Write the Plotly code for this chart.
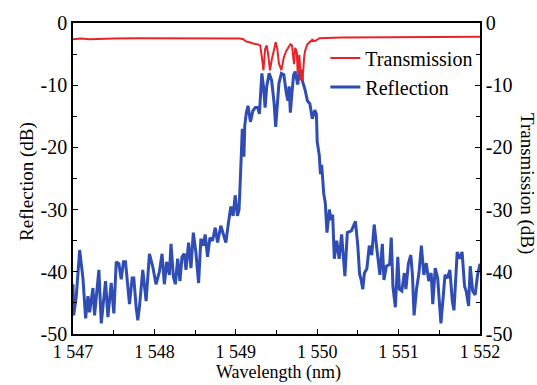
import plotly.graph_objects as go

# Reflection spectrum (dB) vs wavelength (nm)
refl_wl = [
    1547.000, 1547.008, 1547.040, 1547.082, 1547.122, 1547.155, 1547.184, 1547.204,
    1547.245, 1547.265, 1547.318, 1547.347, 1547.400, 1547.429, 1547.469, 1547.502,
    1547.531, 1547.563, 1547.592, 1547.620, 1547.645, 1547.673, 1547.694, 1547.727,
    1547.747, 1547.776, 1547.796, 1547.816, 1547.857, 1547.898, 1547.939, 1547.980,
    1548.020, 1548.061, 1548.094, 1548.122, 1548.151, 1548.184, 1548.204, 1548.233,
    1548.257, 1548.286, 1548.314, 1548.339, 1548.367, 1548.388, 1548.420, 1548.449,
    1548.478, 1548.510, 1548.543, 1548.571, 1548.600, 1548.624, 1548.653, 1548.682,
    1548.714, 1548.747, 1548.776, 1548.816, 1548.845, 1548.878, 1548.910, 1548.939,
    1548.967, 1548.992,
    1549.02, 1549.04, 1549.06, 1549.07, 1549.08, 1549.10, 1549.11, 1549.13,
    1549.15, 1549.18, 1549.21, 1549.24, 1549.27, 1549.29, 1549.31, 1549.32,
    1549.34, 1549.36, 1549.38, 1549.41, 1549.44, 1549.47, 1549.49, 1549.51,
    1549.53, 1549.56, 1549.59, 1549.62, 1549.64, 1549.655, 1549.67, 1549.69,
    1549.71, 1549.73, 1549.76, 1549.78, 1549.80, 1549.82, 1549.85, 1549.88,
    1549.91, 1549.94, 1549.97, 1549.99, 1550.00, 1550.025, 1550.04, 1550.055,
    1550.08, 1550.10, 1550.12, 1550.15, 1550.17, 1550.19, 1550.21, 1550.24,
    1550.27, 1550.30, 1550.32, 1550.34, 1550.37, 1550.42, 1550.47, 1550.50,
    1550.52, 1550.54, 1550.56, 1550.58, 1550.61, 1550.64, 1550.67, 1550.70,
    1550.73, 1550.75, 1550.77, 1550.80, 1550.82, 1550.85, 1550.89, 1550.91,
    1550.93, 1550.96, 1550.99, 1551.01, 1551.04, 1551.07, 1551.09, 1551.12,
    1551.15, 1551.17, 1551.19, 1551.22, 1551.25, 1551.28, 1551.31, 1551.34,
    1551.37, 1551.40, 1551.42, 1551.45, 1551.48, 1551.50, 1551.52, 1551.55,
    1551.57, 1551.60, 1551.63, 1551.66, 1551.68, 1551.72, 1551.75, 1551.78,
    1551.81, 1551.83, 1551.86, 1551.88, 1551.91, 1551.94, 1551.97, 1552.00,
]
refl_db = [
    -42.0, -47.0, -44.0, -36.5, -41.0, -47.5, -43.9, -46.5,
    -42.6, -47.0, -39.7, -48.3, -41.5, -47.3, -41.8, -46.7,
    -38.4, -38.7, -41.2, -38.4, -38.4, -43.1, -45.2, -41.0,
    -41.0, -45.7, -47.8, -45.7, -39.7, -44.7, -37.1, -39.2,
    -42.0, -40.0, -37.1, -42.0, -38.4, -40.5, -35.5, -40.8,
    -42.0, -37.9, -41.5, -37.6, -37.1, -39.7, -35.3, -39.4,
    -33.7, -36.9, -41.8, -34.7, -35.8, -34.0, -37.6, -34.5,
    -35.0, -32.9, -35.3, -32.6, -33.7, -35.3, -32.1, -29.5,
    -31.0, -27.7,
    -31.0, -30.0, -23.8, -20.1, -17.0, -21.5, -16.5, -14.4,
    -13.3, -15.9, -14.1, -13.6, -13.6, -14.6, -9.7, -8.1,
    -10.2, -13.6, -10.2, -8.1, -9.2, -12.8, -16.7, -12.8,
    -9.7, -8.1, -8.3, -11.2, -12.5, -10.2, -14.4, -11.2,
    -8.4, -7.8, -9.9, -8.0, -7.5, -9.4, -10.7, -12.5,
    -13.0, -15.4, -14.0, -14.6, -19.1, -21.2, -24.3, -22.8,
    -27.4, -29.0, -33.7, -30.0, -31.7, -30.8, -37.9, -35.0,
    -37.9, -34.0, -38.0, -40.7, -33.7, -33.4, -31.9, -36.0,
    -40.3, -41.3, -42.8, -40.2, -39.5, -35.8, -37.3, -32.4,
    -36.0, -38.5, -40.5, -35.5, -41.3, -39.1, -38.8, -34.5,
    -42.3, -45.7, -37.6, -42.8, -43.1, -40.2, -42.8, -38.7,
    -37.3, -40.5, -47.0, -42.8, -40.2, -35.8, -40.5, -38.6,
    -41.5, -40.2, -45.2, -39.4, -41.0, -44.7, -48.3, -43.7,
    -40.5, -41.0, -39.7, -44.7, -46.2, -36.8, -37.9, -36.8,
    -42.3, -43.1, -45.5, -39.1, -43.1, -43.7, -40.5, -38.7,
]

# Transmission spectrum (dB) vs wavelength (nm)
trans_wl = [
    1547.00, 1547.10, 1547.20, 1547.35, 1547.50, 1547.80, 1548.20, 1548.60,
    1549.00, 1549.05, 1549.09, 1549.13, 1549.17, 1549.21, 1549.26, 1549.30,
    1549.32, 1549.34, 1549.36, 1549.38, 1549.40, 1549.42, 1549.44, 1549.47,
    1549.49, 1549.51, 1549.53, 1549.56, 1549.59, 1549.62, 1549.64, 1549.67,
    1549.69, 1549.71, 1549.715, 1549.73, 1549.75, 1549.76, 1549.78, 1549.80,
    1549.82, 1549.84, 1549.85, 1549.88, 1549.91, 1549.94, 1549.97, 1550.00,
    1550.03, 1550.30, 1550.80, 1551.50, 1552.00,
]
trans_db = [
    -2.6, -2.5, -2.6, -2.5, -2.5, -2.45, -2.45, -2.4,
    -2.45, -2.5, -2.6, -3.0, -3.1, -3.3, -3.4, -3.6,
    -5.5, -7.6, -4.2, -3.6, -5.3, -7.6, -6.0, -4.2,
    -3.1, -4.2, -6.5, -7.6, -5.5, -4.5, -4.0, -3.4,
    -3.6, -5.5, -6.6, -4.0, -4.7, -8.1, -5.1, -9.1,
    -9.1, -5.5, -4.5, -3.4, -3.1, -2.7, -2.9, -2.6,
    -2.45, -2.35, -2.3, -2.3, -2.2,
]

x_ticks = [1547, 1548, 1549, 1550, 1551, 1552]
x_tick_text = ["1 547", "1 548", "1 549", "1 550", "1 551", "1 552"]
y_ticks = [0, -10, -20, -30, -40, -50]
y_tick_text = ["0", "-10", "-20", "-30", "-40", "-50"]

FONT = "Liberation Serif, Times New Roman, serif"
RED = "#e8242b"
BLUE = "#2f4db4"

fig = go.Figure()
fig.add_trace(go.Scatter(
    x=trans_wl, y=trans_db, name="Transmission", mode="lines",
    line=dict(color=RED, width=2), yaxis="y2",
))
fig.add_trace(go.Scatter(
    x=refl_wl, y=refl_db, name="Reflection", mode="lines",
    line=dict(color=BLUE, width=3),
))

axis_common = dict(
    showgrid=False, zeroline=False, linecolor="black", linewidth=1.5,
    ticks="inside", ticklen=5, tickwidth=1.2, tickcolor="black",
)
minor_ticks = dict(ticks="inside", ticklen=4, tickcolor="black")
y_font = dict(family=FONT, size=20, color="black")

fig.update_layout(
    width=537, height=385,
    margin=dict(l=73, r=57, t=15, b=51),
    paper_bgcolor="white", plot_bgcolor="white",
    font=dict(family=FONT, color="black"),
    xaxis=dict(
        range=[1547, 1552], tickvals=x_ticks, ticktext=x_tick_text,
        mirror=True, minor=dict(dtick=0.5, **minor_ticks),
        tickfont=dict(family=FONT, size=18, color="black"),
        ticklabelstandoff=1,
        **axis_common,
    ),
    yaxis=dict(
        range=[-50, 0], tickvals=y_ticks, ticktext=y_tick_text,
        minor=dict(dtick=5, **minor_ticks), tickfont=y_font,
        **axis_common,
    ),
    yaxis2=dict(
        range=[-50, 0], tickvals=y_ticks, ticktext=y_tick_text,
        overlaying="y", side="right",
        minor=dict(dtick=5, **minor_ticks), tickfont=y_font,
        **axis_common,
    ),
    legend=dict(
        x=0.62, y=0.95, xanchor="left", yanchor="top",
        bgcolor="rgba(0,0,0,0)", borderwidth=0,
        font=dict(family=FONT, size=20, color="black"),
        tracegroupgap=0,
    ),
    showlegend=True,
    annotations=[
        dict(text="Wavelength (nm)", xref="paper", yref="paper", x=0.505, y=-0.163,
             xanchor="center", yanchor="bottom", showarrow=False,
             font=dict(family=FONT, size=18)),
        dict(text="Reflection (dB)", xref="paper", yref="paper", x=-0.113, y=0.489,
             xanchor="center", yanchor="middle", showarrow=False, textangle=-90,
             font=dict(family=FONT, size=19)),
        dict(text="Transmission (dB)", xref="paper", yref="paper", x=1.115, y=0.483,
             xanchor="center", yanchor="middle", showarrow=False, textangle=90,
             font=dict(family=FONT, size=19)),
    ],
)

fig.write_html("out.html")
